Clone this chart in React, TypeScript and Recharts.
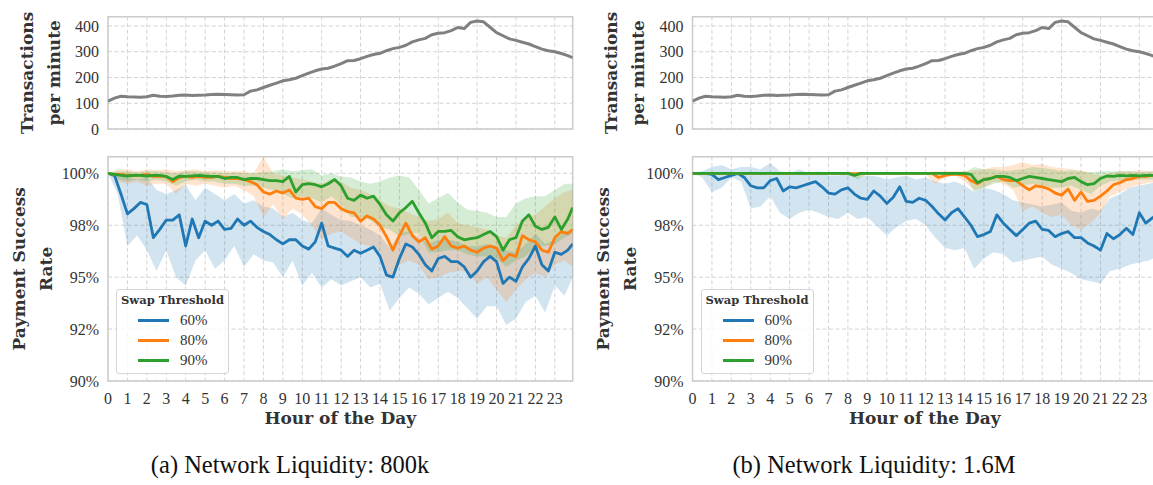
import React from 'react'
import {
  ComposedChart,
  Line,
  Area,
  XAxis,
  YAxis,
  CartesianGrid,
  ReferenceArea,
  Legend,
  Label,
} from 'recharts'

// sample positions in hours: lines every 20 min, bands every 30 min, last sample at 23:55
const LINE_HOURS = Array.from({ length: 72 }, (_, i) => i / 3).concat(23.92)
const BAND_HOURS = Array.from({ length: 48 }, (_, i) => i / 2).concat(23.92)
const X_MAX = 23.92
const HOUR_TICKS = Array.from({ length: 24 }, (_, i) => i)

const TX_TICKS = [0, 100, 200, 300, 400]
const TX_MAX = 436
const RATE_TICKS = [90, 92.5, 95, 97.5, 100]
const RATE_LABELS = ['90%', '92%', '95%', '98%', '100%']
const RATE_MAX = 100.8

const THRESHOLDS = ['60%', '80%', '90%']
const COLORS = ['#1f77b4', '#ff7f0e', '#2ca02c']

// transactions per minute (same workload in both runs)
const TX_PER_MIN = [
  108, 120, 127, 125, 124, 123, 125, 131, 127, 126, 128, 131, 132, 130, 131, 132, 134, 135,
  134, 133, 132, 133, 147, 152, 161, 170, 178, 187, 191, 197, 207, 217, 226, 233, 236, 244,
  254, 265, 266, 273, 282, 289, 294, 304, 312, 317, 325, 338, 346, 352, 366, 372, 374, 382,
  394, 390, 414, 419, 416, 395, 374, 362, 350, 344, 337, 330, 320, 310, 304, 300, 293, 285,
  277,
]

// (a) 800k liquidity, success rate in %
const A_MEAN_60 = [
  100, 99.9, 99.0, 98.05, 98.3, 98.6, 98.5, 96.9, 97.3, 97.75, 97.75, 98.0,
  96.5, 97.8, 96.9, 97.7, 97.5, 97.7, 97.3, 97.35, 97.8, 97.5, 97.7, 97.4,
  97.2, 97.05, 96.8, 96.6, 96.8, 96.8, 96.5, 96.35, 96.7, 97.6, 96.5, 96.4,
  96.3, 96.0, 96.3, 96.15, 96.3, 96.45, 96.0, 95.1, 95.0, 95.9, 96.6, 96.45,
  96.1, 95.6, 95.3, 95.9, 96.0, 95.75, 95.75, 95.5, 95.0, 95.3, 95.75, 96.0,
  95.75, 94.7, 95.0, 94.8, 95.5, 95.9, 96.5, 95.6, 95.3, 96.2, 96.1, 96.3,
  96.6,
]
const A_MEAN_80 = [
  100, 99.95, 99.95, 99.9, 99.9, 99.9, 99.95, 99.85, 99.85, 99.85, 99.6, 99.8,
  99.85, 99.8, 99.85, 99.8, 99.8, 99.85, 99.8, 99.75, 99.75, 99.7, 99.6, 99.45,
  99.1, 99.0, 99.15, 99.05, 99.2, 98.8, 98.75, 98.8, 98.4, 98.3, 98.6, 98.6,
  98.3, 98.15, 98.1, 97.7, 97.95, 97.8, 97.5, 96.95, 96.3, 97.0, 97.6, 97.0,
  96.7, 96.9, 96.35, 96.5, 96.95, 96.5, 96.4, 96.5, 96.3, 96.2, 96.4, 96.5,
  96.4, 95.8, 96.1, 96.0, 97.0, 96.8, 96.7, 96.3, 96.2, 96.9, 97.2, 97.1,
  97.3,
]
const A_MEAN_90 = [
  100, 99.95, 99.9, 99.87, 99.9, 99.9, 99.87, 99.9, 99.9, 99.85, 99.7, 99.87,
  99.85, 99.88, 99.9, 99.87, 99.85, 99.85, 99.75, 99.8, 99.8, 99.7, 99.75, 99.75,
  99.7, 99.65, 99.65, 99.6, 99.85, 99.1, 99.45, 99.5, 99.45, 99.35, 99.5, 99.7,
  99.4, 98.8, 98.7, 98.95, 98.8, 98.9, 98.5, 98.0, 97.7, 98.1, 98.35, 98.65,
  98.1, 97.6, 96.9, 97.2, 97.2, 97.25, 96.95, 96.8, 96.85, 96.9, 97.05, 97.2,
  96.95, 96.3, 96.8, 96.9, 97.7, 98.0, 97.45, 97.3, 97.4, 97.9, 97.3, 97.8,
  98.35,
]
const A_LOW_60 = [
  100, 99.0, 96.5, 97.0, 96.3, 95.3, 96.3, 95.0, 94.6, 95.8, 96.3, 95.4, 95.8, 96.5, 95.5, 96.1,
  95.8, 95.7, 95.0, 95.8, 94.6, 95.2, 94.5, 94.9, 94.6, 94.8, 95.0, 94.5, 94.7, 93.4, 94.0, 94.5,
  94.2, 93.7, 94.0, 94.3, 94.0, 93.5, 93.0, 93.6, 93.6, 92.7, 93.0, 93.8, 94.1, 93.3, 94.6, 94.1,
  95.0,
]
const A_HIGH_60 = [
  100, 99.95, 99.8, 99.7, 99.8, 99.2, 99.0, 99.2, 99.45, 98.7, 99.3, 99.0, 98.7, 99.0, 98.55, 98.7,
  98.4, 98.3, 97.9, 98.1, 97.75, 97.6, 98.3, 98.0, 97.75, 97.7, 97.5, 97.3, 97.0, 96.4, 97.1, 97.2,
  96.9, 96.6, 96.8, 96.8, 96.7, 96.5, 96.5, 96.6, 96.5, 96.3, 96.2, 96.6, 97.1, 96.6, 96.8, 97.2,
  97.3,
]
const A_LOW_80 = [
  100, 99.6, 99.5, 99.6, 99.4, 99.5, 99.5, 99.0, 99.5, 99.4, 99.5, 99.4, 99.3, 99.4, 99.2, 98.9,
  97.9, 98.5, 97.8, 98.3, 98.0, 97.5, 96.8, 97.1, 97.2, 96.9, 96.6, 96.5, 96.2, 94.9, 95.6, 95.8,
  95.6, 94.9, 95.0, 95.2, 95.3, 95.3, 94.7, 95.0, 94.4, 93.8, 94.4, 94.9, 95.2, 95.0, 95.6, 95.8,
  95.5,
]
const A_HIGH_80 = [
  100, 100.2, 100.2, 100.1, 100.2, 100.15, 100.2, 100.1, 100.15, 100.2, 100.1, 100.15, 100.1, 100.1, 100.1, 100.0,
  100.8, 100.0, 99.9, 99.8, 99.7, 99.6, 99.5, 99.7, 99.6, 99.3, 99.2, 99.0, 98.7, 98.4, 98.3, 98.1,
  97.9, 97.7, 97.8, 98.1, 97.6, 97.5, 97.4, 97.3, 97.0, 96.9, 97.5, 97.9, 98.0, 98.4, 98.8, 99.1,
  99.2,
]
const A_LOW_90 = [
  100, 99.7, 99.6, 99.7, 99.6, 99.7, 99.6, 99.4, 99.6, 99.7, 99.6, 99.6, 99.5, 99.5, 99.4, 99.4,
  99.3, 99.2, 99.0, 98.8, 98.9, 98.8, 98.6, 98.9, 98.5, 97.9, 97.9, 97.75, 97.4, 97.3, 96.95, 97.1,
  97.1, 96.2, 96.2, 96.3, 96.3, 96.1, 96.0, 96.0, 95.9, 95.5, 95.8, 96.0, 96.5, 96.5, 96.6, 96.9,
  97.1,
]
const A_HIGH_90 = [
  100, 100.1, 100.1, 100.05, 100.1, 100.1, 100.05, 100.0, 100.1, 100.1, 100.05, 100.05, 100.0, 100.05, 100.0, 100.0,
  100.05, 100.1, 100.2, 100.1, 100.15, 100.2, 99.9, 100.0, 99.85, 99.8, 99.6, 99.5, 99.6, 99.8, 99.9, 99.8,
  99.2, 98.55, 98.8, 99.05, 98.6, 98.25, 98.2, 98.1, 97.9, 97.9, 98.55, 98.8, 98.9, 98.9, 99.2, 99.5,
  99.5,
]

// (b) 1.6M liquidity, success rate in %
const B_MEAN_60 = [
  100, 100, 100, 99.95, 99.7, 99.8, 99.9, 100, 99.8, 99.4, 99.3, 99.3,
  99.65, 99.75, 99.15, 99.35, 99.3, 99.4, 99.5, 99.6, 99.35, 99.05, 99.0, 99.2,
  99.3, 99.0, 98.8, 98.75, 99.15, 98.9, 98.55, 98.85, 99.35, 98.65, 98.6, 98.8,
  98.7, 98.4, 98.05, 97.75, 98.1, 98.3, 97.9, 97.5, 96.95, 97.05, 97.2, 98.0,
  97.6, 97.3, 97.0, 97.3, 97.6, 97.7, 97.3, 97.25, 96.95, 97.1, 97.2, 96.9,
  96.9, 96.65, 96.5, 96.3, 97.1, 96.85, 97.05, 97.35, 97.05, 98.1, 97.6, 97.85,
  98.0,
]
const B_MEAN_80 = [
  100, 100, 100, 100, 100, 100, 100, 100, 100, 100, 100, 100,
  100, 100, 100, 100, 100, 100, 100, 100, 100, 100, 100, 100,
  100, 99.97, 100, 100, 100, 100, 100, 100, 100, 100, 100, 100,
  100, 100, 99.8, 99.9, 99.95, 99.95, 99.9, 99.65, 99.5, 99.7, 99.75, 99.85,
  99.7, 99.65, 99.65, 99.4, 99.2, 99.4, 99.35, 99.25, 99.05, 98.95, 99.25, 98.7,
  99.1, 98.65, 98.7, 98.9, 99.15, 99.45, 99.55, 99.7, 99.75, 99.85, 99.85, 99.9,
  99.9,
]
const B_MEAN_90 = [
  100, 100, 100, 100, 100, 100, 100, 100, 100, 100, 100, 100,
  100, 100, 100, 100, 100, 100, 100, 100, 100, 100, 100, 100,
  100, 99.9, 100, 100, 100, 100, 100, 100, 100, 100, 100, 100,
  100, 100, 100, 100, 100, 100, 100, 99.95, 99.55, 99.7, 99.75, 99.85,
  99.85, 99.8, 99.65, 99.75, 99.85, 99.8, 99.75, 99.7, 99.65, 99.6, 99.75, 99.8,
  99.6, 99.45, 99.5, 99.75, 99.87, 99.85, 99.9, 99.88, 99.9, 99.88, 99.9, 99.9,
  99.9,
]
const B_LOW_60 = [
  100, 99.8, 99.1, 99.3, 99.8, 99.6, 98.3, 98.4, 98.9, 98.1, 97.8, 98.1, 98.25, 98.1, 97.9, 97.8,
  98.1, 97.8, 97.9, 97.45, 97.0, 97.4, 97.7, 97.8, 97.5, 96.9, 96.4, 96.3, 96.4, 95.4, 95.9, 96.2,
  96.1, 95.7, 95.8, 95.9, 96.0, 95.6, 95.4, 95.2, 94.9, 94.8, 94.7, 95.3, 95.4, 95.6, 95.7, 95.8,
  96.0,
]
const B_HIGH_60 = [
  100, 100.1, 100.3, 100.4, 100.2, 100.3, 100.3, 100.2, 100.5, 100.1, 100.0, 100.2, 100.0, 100.1, 99.9, 99.9,
  100.0, 99.8, 99.9, 99.85, 99.7, 99.8, 99.9, 99.7, 99.8, 99.6, 99.5, 99.6, 99.4, 99.1, 99.3, 99.2,
  99.0, 98.7, 98.6, 98.5, 98.4, 98.5, 98.6, 98.2, 98.1, 98.3, 98.2, 98.8, 99.0, 99.3, 99.4, 99.5,
  99.6,
]
const B_LOW_80 = [
  100, 99.95, 99.95, 99.95, 99.95, 99.95, 99.95, 99.95, 99.95, 99.95, 99.95, 99.95, 99.95, 99.95, 99.95, 99.95,
  99.95, 99.8, 99.95, 99.95, 99.95, 99.95, 99.95, 99.95, 99.95, 99.5, 99.8, 99.9, 99.6, 99.2, 99.3, 99.6,
  99.5, 99.2, 98.2, 98.4, 98.1, 97.9, 98.0, 97.5, 97.3, 97.6, 98.1, 98.9, 99.1, 99.3, 99.45, 99.55,
  99.6,
]
const B_HIGH_80 = [
  100, 100.05, 100.05, 100.05, 100.05, 100.05, 100.05, 100.05, 100.05, 100.05, 100.05, 100.05, 100.05, 100.05, 100.05, 100.05,
  100.05, 100.05, 100.05, 100.05, 100.05, 100.05, 100.05, 100.05, 100.05, 100.1, 100.1, 100.1, 100.1, 100.15, 100.2, 100.3,
  100.3, 100.4, 100.55, 100.4, 100.45, 100.3, 100.25, 100.2, 100.15, 100.0, 99.9, 100.0, 100.1, 100.1, 100.15, 100.1,
  100.1,
]
const B_LOW_90 = [
  100, 99.95, 99.95, 99.95, 99.95, 99.95, 99.95, 99.95, 99.95, 99.95, 99.95, 99.95, 99.95, 99.95, 99.95, 99.95,
  99.95, 99.7, 99.95, 99.95, 99.95, 99.95, 99.95, 99.95, 99.95, 99.95, 99.95, 99.95, 99.95, 99.1, 99.3, 99.5,
  99.6, 99.3, 99.4, 99.5, 99.4, 99.3, 99.3, 99.4, 99.2, 99.0, 99.4, 99.6, 99.65, 99.7, 99.7, 99.7,
  99.7,
]
const B_HIGH_90 = [
  100, 100.05, 100.05, 100.05, 100.05, 100.05, 100.05, 100.05, 100.05, 100.05, 100.05, 100.05, 100.05, 100.05, 100.05, 100.05,
  100.05, 100.05, 100.05, 100.05, 100.05, 100.05, 100.05, 100.05, 100.05, 100.05, 100.05, 100.05, 100.05, 100.3, 100.2, 100.2,
  100.1, 100.15, 100.2, 100.3, 100.25, 100.2, 100.1, 100.15, 100.1, 100.05, 100.1, 100.1, 100.1, 100.1, 100.05, 100.1,
  100.1,
]

const SERIF = '"Liberation Serif", "Times New Roman", serif'
const BOLD_SERIF = '"DejaVu Serif", serif'
const TEXT = '#333333'
const GRID = '#d3d3d3'
const FRAME = '#cccccc'
const TICK = { fontFamily: SERIF, fontSize: 16, fill: TEXT }

const PANEL_W = 580
const PLOT_W = 464.7

const stackedLabel = (lines: string[], offsets: number[]) =>
  function StackedLabel(props: any) {
    const vb = props.viewBox || {}
    const cy = vb.y + vb.height / 2
    const edge = vb.x + vb.width
    return (
      <g>
        {lines.map((t, i) => {
          const x = edge + offsets[i]
          return (
            <text
              key={t}
              x={x}
              y={cy}
              transform={`rotate(-90 ${x} ${cy})`}
              textAnchor="middle"
              fontFamily={BOLD_SERIF}
              fontWeight="bold"
              fontSize={17}
              fill={TEXT}
            >
              {t}
            </text>
          )
        })}
      </g>
    )
  }

function HourLabel(props: any) {
  const vb = props.viewBox || {}
  return (
    <text
      x={vb.x + vb.width / 2}
      y={vb.y + 43}
      textAnchor="middle"
      fontFamily={BOLD_SERIF}
      fontWeight="bold"
      fontSize={17}
      fill={TEXT}
    >
      Hour of the Day
    </text>
  )
}

function SwapLegend({ payload }: any) {
  const items = (payload || []).filter((p: any) => p.type !== 'none')
  return (
    <div
      style={{
        width: 113,
        height: 85,
        boxSizing: 'border-box',
        border: '1px solid #d6d6d6',
        borderRadius: 3,
        background: 'rgba(255,255,255,0.8)',
        position: 'relative',
      }}
    >
      <div
        style={{
          position: 'absolute',
          left: 0,
          right: 0,
          top: 2,
          textAlign: 'center',
          fontFamily: BOLD_SERIF,
          fontWeight: 'bold',
          fontSize: 11.5,
          lineHeight: '16px',
          color: TEXT,
        }}
      >
        Swap Threshold
      </div>
      {items.map((p: any, i: number) => (
        <div key={p.value} style={{ position: 'absolute', left: 0, top: 20.5 + i * 20, width: '100%', height: 20 }}>
          <div style={{ position: 'absolute', left: 21, top: 8.5, width: 31, height: 3, background: p.color }} />
          <div
            style={{
              position: 'absolute',
              left: 63,
              top: 0,
              lineHeight: '20px',
              fontFamily: SERIF,
              fontSize: 15,
              color: TEXT,
            }}
          >
            {p.value}
          </div>
        </div>
      ))}
    </div>
  )
}

type PanelProps = {
  left: number
  axisWidth: number
  caption: string
  captionShift: number
  means: number[][]
  lows: number[][]
  highs: number[][]
}

function Panel({ left, axisWidth, caption, captionShift, means, lows, highs }: PanelProps) {
  const right = PANEL_W - axisWidth - PLOT_W
  const txRows = LINE_HOURS.map((h, i) => ({ h, v: TX_PER_MIN[i] }))
  return (
    <div style={{ position: 'absolute', left, top: 0, width: PANEL_W, height: 485 }}>
      <ComposedChart width={PANEL_W} height={140} data={txRows} margin={{ top: 16.7, right, bottom: 11, left: 0 }}>
        <CartesianGrid stroke={GRID} strokeDasharray="4 2.5" />
        <XAxis dataKey="h" type="number" domain={[0, X_MAX]} ticks={HOUR_TICKS} hide allowDataOverflow />
        <YAxis
          type="number"
          domain={[0, TX_MAX]}
          ticks={TX_TICKS}
          width={axisWidth}
          axisLine={false}
          tickLine={false}
          tickSize={0}
          tickMargin={9}
          tick={TICK}
          allowDataOverflow
        >
          <Label content={stackedLabel(['Transactions', 'per minute'], [-75, -48])} />
        </YAxis>
        <ReferenceArea x1={0} x2={X_MAX} y1={0} y2={TX_MAX} fill="none" stroke={FRAME} strokeWidth={1.5} />
        <Line
          dataKey="v"
          type="linear"
          stroke="#808080"
          strokeWidth={3}
          strokeLinejoin="round"
          dot={false}
          activeDot={false}
          isAnimationActive={false}
        />
      </ComposedChart>

      <div style={{ position: 'absolute', left: 0, top: 140 }}>
        <ComposedChart width={PANEL_W} height={300} margin={{ top: 16.7, right, bottom: 14, left: 0 }}>
          <CartesianGrid stroke={GRID} strokeDasharray="4 2.5" />
          <XAxis
            dataKey="h"
            type="number"
            domain={[0, X_MAX]}
            ticks={HOUR_TICKS}
            interval={0}
            height={45}
            axisLine={false}
            tickLine={false}
            tickSize={0}
            tickMargin={12}
            tick={TICK}
            allowDataOverflow
          >
            <Label content={HourLabel} />
          </XAxis>
          <YAxis
            type="number"
            domain={[90, RATE_MAX]}
            ticks={RATE_TICKS}
            tickFormatter={(v: number) => RATE_LABELS[RATE_TICKS.indexOf(v)]}
            width={axisWidth}
            axisLine={false}
            tickLine={false}
            tickSize={0}
            tickMargin={9}
            tick={TICK}
            allowDataOverflow
          >
            <Label content={stackedLabel(['Payment Success', 'Rate'], [-83, -56])} />
          </YAxis>
          <ReferenceArea x1={0} x2={X_MAX} y1={90} y2={RATE_MAX} fill="none" stroke={FRAME} strokeWidth={1.5} />
          {THRESHOLDS.flatMap((name, k) => [
            <Area
              key={`band-${name}`}
              data={BAND_HOURS.map((h, i) => ({ h, r: [lows[k][i], highs[k][i]] }))}
              dataKey="r"
              type="linear"
              stroke="none"
              fill={COLORS[k]}
              fillOpacity={0.2}
              legendType="none"
              dot={false}
              activeDot={false}
              isAnimationActive={false}
            />,
            <Line
              key={`line-${name}`}
              data={LINE_HOURS.map((h, i) => ({ h, v: means[k][i] }))}
              dataKey="v"
              name={name}
              type="linear"
              stroke={COLORS[k]}
              strokeWidth={2.8}
              strokeLinejoin="round"
              dot={false}
              activeDot={false}
              isAnimationActive={false}
            />,
          ])}
          <Legend
            layout="vertical"
            align="center"
            verticalAlign="middle"
            content={SwapLegend}
            wrapperStyle={{ left: axisWidth + 8, top: 148.5, width: 113 }}
          />
        </ComposedChart>
      </div>

      <div
        style={{
          position: 'absolute',
          left: captionShift,
          top: 454.5,
          width: PANEL_W,
          textAlign: 'center',
          fontFamily: SERIF,
          fontSize: 24.5,
          lineHeight: '20px',
          color: '#111',
          whiteSpace: 'nowrap',
        }}
      >
        {caption}
      </div>
    </div>
  )
}

export default function App() {
  return (
    <div
      style={{
        position: 'fixed',
        left: 0,
        top: 0,
        width: 1153,
        height: 485,
        overflow: 'hidden',
        background: '#fff',
      }}
    >
      <Panel
        left={0}
        axisWidth={108}
        caption="(a) Network Liquidity: 800k"
        captionShift={0}
        means={[A_MEAN_60, A_MEAN_80, A_MEAN_90]}
        lows={[A_LOW_60, A_LOW_80, A_LOW_90]}
        highs={[A_HIGH_60, A_HIGH_80, A_HIGH_90]}
      />
      <Panel
        left={580}
        axisWidth={112.5}
        caption="(b) Network Liquidity: 1.6M"
        captionShift={4}
        means={[B_MEAN_60, B_MEAN_80, B_MEAN_90]}
        lows={[B_LOW_60, B_LOW_80, B_LOW_90]}
        highs={[B_HIGH_60, B_HIGH_80, B_HIGH_90]}
      />
    </div>
  )
}
